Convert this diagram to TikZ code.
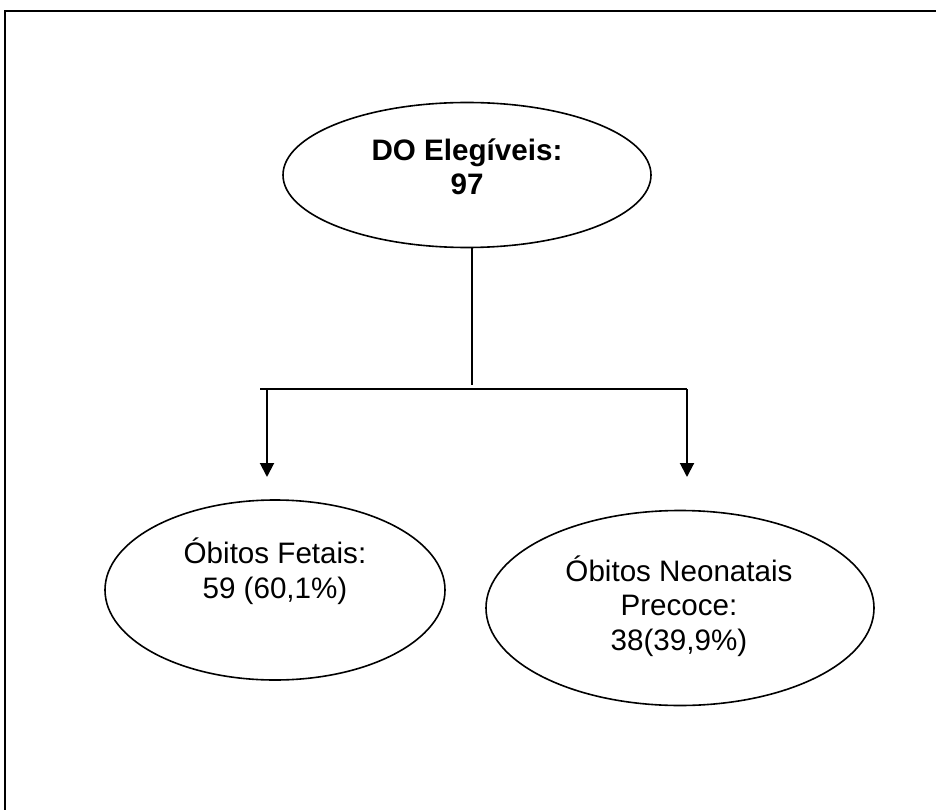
\documentclass[tikz,border=0pt]{standalone}
\usepackage{fontspec}
\setmainfont{Liberation Sans}
\usetikzlibrary{shapes.geometric,arrows.meta}
\begin{document}
\begin{tikzpicture}[x=1pt,y=-1pt,
  oval/.style={draw,ellipse,line width=1.6pt,inner sep=0pt},
  lbl/.style={align=center,font=\fontsize{29.6}{34.5}\selectfont,inner sep=0pt},
  conn/.style={line width=2pt},
  arr/.style={conn,-{Triangle[width=14pt,length=14pt]}}]
\useasboundingbox (0,0) rectangle (936,810);
% frame
\coordinate (fb) at (5,812);
\coordinate (fc) at (5,11);
\coordinate (fr) at (938,11);
\draw[line width=2.8pt] (fb) -- (fc) -- (fr);
% nodes
\node[oval,minimum width=368pt,minimum height=145pt] (top) at (467,175) {};
\node[lbl,font=\fontsize{29.6}{34.5}\selectfont\bfseries] (toptxt) at (467,167) {DO Elegíveis:\\97};
\node[oval,minimum width=340pt,minimum height=180pt] (left) at (275,590) {};
\node[lbl] (lefttxt) at (275,571) {Óbitos Fetais:\\59 (60,1\%)};
\node[oval,minimum width=388pt,minimum height=195pt] (right) at (680,608) {};
\node[lbl] (righttxt) at (679,606) {Óbitos Neonatais\\Precoce:\\38(39,9\%)};
% connectors
\coordinate (j) at (472,385);
\coordinate (hl) at (260,389);
\coordinate (hm) at (267,389);
\coordinate (hr) at (687,389);
\coordinate (al) at (267,477);
\coordinate (ar) at (687,477);
\draw[conn] (top.south -| j) -- (j);
\draw[conn] (hl) -- (hr);
\draw[arr] (hm) -- (al);
\draw[arr] (hr) -- (ar);
\end{tikzpicture}
\end{document}
